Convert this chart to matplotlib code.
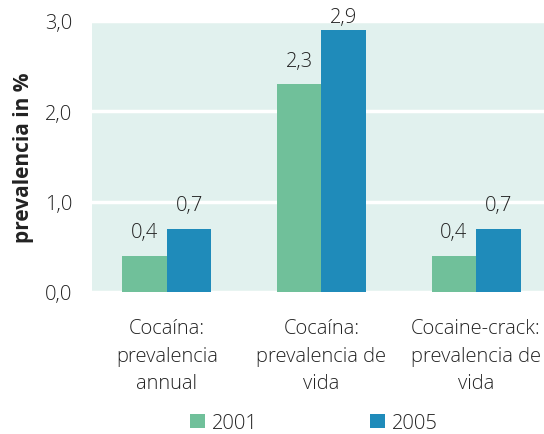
import matplotlib
matplotlib.use('Agg')
import matplotlib.pyplot as plt
import numpy as np

plt.rcParams['font.family'] = ['Open Sans', 'DejaVu Sans']
plt.rcParams['font.weight'] = 'light'

categories = ['Cocaína:\nprevalencia\nannual',
              'Cocaína:\nprevalencia de\nvida',
              'Cocaine-crack:\nprevalencia de\nvida']
years = ['2001', '2005']
vals_2001 = [0.4, 2.3, 0.4]
vals_2005 = [0.7, 2.9, 0.7]
colors = ['#70c09a', '#1f8bba']
TXT = '#222222'

fig = plt.figure(figsize=(5.44, 4.35), dpi=100)
# plot area in pixels: left 92, right 544, top 22, bottom 293
ax = fig.add_axes([92 / 544, 1 - 293 / 435, 452 / 544, 271 / 435])
ax.set_facecolor('#e1f1ee')

x = np.arange(len(categories))
w = 0.288
b1 = ax.bar(x - w / 2, vals_2001, w, color=colors[0], label=years[0], zorder=3)
b2 = ax.bar(x + w / 2, vals_2005, w, color=colors[1], label=years[1], zorder=3)

# value labels, kept inside the plot top
for bars in (b1, b2):
    for bar in bars:
        h = bar.get_height()
        ax.text(bar.get_x() + bar.get_width() / 2, min(h + 0.15, 2.93),
                f'{h:.1f}'.replace('.', ','), ha='center', va='bottom',
                fontsize=14.5, color=TXT)

ax.set_xlim(-0.485, 2.44)
ax.set_ylim(0, 3.0)
ax.set_yticks([0, 1, 2, 3])
ax.set_yticklabels(['0,0', '1,0', '2,0', '3,0'])
ax.set_xticks(x)
ax.set_xticklabels(categories, linespacing=1.5)
ax.tick_params(axis='both', length=0, labelsize=14.5, colors=TXT)
ax.tick_params(axis='y', pad=14)
ax.tick_params(axis='x', pad=19)
ax.yaxis.grid(True, color='white', lw=2.5, zorder=1)
ax.set_axisbelow(True)
for s in ax.spines.values():
    s.set_visible(False)

ax.set_ylabel('prevalencia in %', fontsize=15, fontweight='bold', color=TXT)
ax.yaxis.set_label_coords(-(92 - 34) / 452, 0.5)

fig.legend(handles=[b1, b2], labels=years, loc='center left',
           bbox_to_anchor=(172 / 544, 1 - 424 / 435), ncol=2, frameon=False,
           fontsize=14.5, handlelength=0.75, handleheight=0.75,
           handletextpad=0.35, columnspacing=5.55, labelcolor=TXT)

plt.savefig('out.png', dpi=100)
